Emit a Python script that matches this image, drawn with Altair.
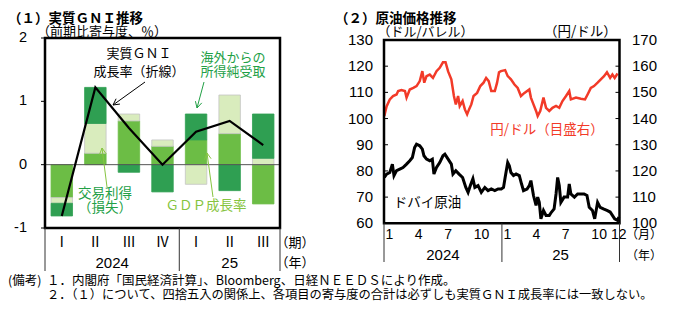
import math
import altair as alt
import pandas as pd

# ---------------- data: (1) real GNI ----------------
quarter_labels = ["Ⅰ", "Ⅱ", "Ⅲ", "Ⅳ", "Ⅰ", "Ⅱ", "Ⅲ"]
quarter_years = ["2024", "2024", "2024", "2024", "25", "25", "25"]
gdp_growth = [-0.52, 0.18, 0.69, 0.29, 0.39, 0.49, -0.62]
trade_gain = [-0.09, 0.47, 0.11, 0.10, -0.31, 0.61, 0.10]
net_income = [-0.20, 0.57, -0.12, -0.43, 0.41, -0.41, 0.70]
gni_growth = [-0.81, 1.22, 0.58, 0.00, 0.52, 0.69, 0.31]
left_ticks = [2, 1, 0, -1]
components = ["GDP成長率", "交易利得（損失）", "海外からの所得純受取"]

# ---------------- data: (2) crude oil & yen ----------------
oil_dates = [
    "2024-01-02", "2024-01-09", "2024-01-19", "2024-01-27", "2024-02-01", "2024-02-09",
    "2024-02-19", "2024-02-29", "2024-03-11", "2024-03-21", "2024-03-29", "2024-04-05",
    "2024-04-11", "2024-04-21", "2024-04-29", "2024-05-04", "2024-05-12", "2024-05-22",
    "2024-05-30", "2024-06-04", "2024-06-12", "2024-06-22", "2024-07-02", "2024-07-08",
    "2024-07-18", "2024-07-28", "2024-08-02", "2024-08-11", "2024-08-21", "2024-09-01",
    "2024-09-11", "2024-09-18", "2024-09-25", "2024-10-03", "2024-10-09", "2024-10-19",
    "2024-10-29", "2024-11-09", "2024-11-19", "2024-11-29", "2024-12-10", "2024-12-20",
    "2024-12-30", "2025-01-06", "2025-01-11", "2025-01-19", "2025-01-24", "2025-01-29",
    "2025-02-06", "2025-02-14", "2025-02-24", "2025-03-03", "2025-03-09", "2025-03-20",
    "2025-03-27", "2025-04-01", "2025-04-09", "2025-04-17", "2025-04-22", "2025-04-27",
    "2025-05-02", "2025-05-10", "2025-05-18", "2025-05-28", "2025-06-04", "2025-06-12",
    "2025-06-18", "2025-06-23", "2025-06-28", "2025-07-03", "2025-07-13", "2025-07-24",
    "2025-07-29", "2025-08-03", "2025-08-14", "2025-08-24", "2025-09-03", "2025-09-13",
    "2025-09-22", "2025-09-29", "2025-10-09", "2025-10-16", "2025-10-25", "2025-11-02",
    "2025-11-12", "2025-11-23", "2025-12-03", "2025-12-10", "2025-12-17", "2025-12-26",
    "2025-12-30",
]
oil_values = [
    77.5, 78.8, 79.4, 82.6, 78.2, 80.1,
    80.7, 81.3, 82.6, 83.9, 85.1, 88.9,
    90.2, 89.6, 88.3, 85.8, 84.5, 83.9,
    84.5, 78.8, 81.3, 83.2, 85.8, 86.4,
    84.5, 82.6, 78.8, 80.1, 78.8, 77.5,
    73.7, 71.8, 74.4, 77.0, 73.7, 74.4,
    71.8, 73.7, 72.5, 73.1, 72.5, 73.1,
    73.1, 73.7, 77.5, 83.2, 82.0, 79.4,
    78.2, 78.8, 78.2, 75.0, 72.5, 73.1,
    74.4, 76.3, 70.6, 66.8, 70.0, 68.0,
    61.7, 64.9, 63.0, 63.0, 64.3, 65.5,
    71.2, 77.5, 74.4, 68.0, 70.0, 70.0,
    75.0, 71.2, 70.0, 71.2, 71.2, 71.2,
    70.6, 66.1, 64.9, 61.7, 68.0, 66.1,
    65.5, 64.9, 64.3, 63.0, 61.7, 61.1,
    62.4,
]
yen_dates = [
    "2024-01-02", "2024-01-09", "2024-01-19", "2024-01-29", "2024-02-09", "2024-02-14",
    "2024-02-24", "2024-03-06", "2024-03-11", "2024-03-21", "2024-04-01", "2024-04-11",
    "2024-04-21", "2024-04-29", "2024-05-05", "2024-05-12", "2024-05-22", "2024-06-01",
    "2024-06-12", "2024-06-22", "2024-07-02", "2024-07-10", "2024-07-18", "2024-07-28",
    "2024-08-05", "2024-08-11", "2024-08-18", "2024-08-23", "2024-09-01", "2024-09-08",
    "2024-09-15", "2024-09-21", "2024-09-28", "2024-10-05", "2024-10-16", "2024-10-26",
    "2024-11-05", "2024-11-13", "2024-11-21", "2024-11-29", "2024-12-10", "2024-12-17",
    "2024-12-23", "2024-12-29", "2025-01-11", "2025-01-19", "2025-01-29", "2025-02-09",
    "2025-02-19", "2025-03-01", "2025-03-12", "2025-03-27", "2025-04-01", "2025-04-09",
    "2025-04-17", "2025-04-22", "2025-04-30", "2025-05-10", "2025-05-18", "2025-05-28",
    "2025-06-07", "2025-06-18", "2025-06-28", "2025-07-08", "2025-07-19", "2025-07-29",
    "2025-08-03", "2025-08-19", "2025-09-03", "2025-09-16", "2025-09-24", "2025-10-04",
    "2025-10-14", "2025-10-25", "2025-11-04", "2025-11-14", "2025-11-23", "2025-12-03",
    "2025-12-10", "2025-12-17", "2025-12-26",
]
yen_values = [
    141.0, 144.6, 147.3, 148.6, 149.2, 150.5,
    150.9, 150.5, 148.0, 151.1, 151.7, 152.4,
    154.3, 158.1, 153.7, 156.2, 156.8, 155.5,
    158.1, 159.4, 161.5, 161.5, 158.0, 155.0,
    148.6, 145.4, 148.6, 144.8, 146.7, 143.5,
    141.6, 143.5, 145.4, 148.6, 149.8, 152.4,
    153.7, 155.5, 154.3, 150.5, 150.5, 153.7,
    157.7, 158.1, 158.5, 156.2, 155.0, 153.0,
    151.7, 148.6, 149.8, 151.1, 148.0, 145.4,
    142.9, 141.0, 142.9, 148.0, 144.1, 142.9,
    144.1, 144.8, 144.1, 146.7, 148.6, 150.5,
    147.3, 148.0, 147.6, 147.3, 149.2, 151.7,
    152.4, 153.7, 155.0, 156.2, 157.7, 155.5,
    156.8, 155.5, 157.2,
]
oil_ticks = [60, 70, 80, 90, 100, 110, 120, 130]
yen_ticks = [100, 110, 120, 130, 140, 150, 160, 170]
month_tick_dates = ["2024-01-01", "2024-04-01", "2024-07-01", "2024-10-01",
                    "2025-01-01", "2025-04-01", "2025-07-01", "2025-10-01", "2025-12-01"]
month_tick_labels = ["1", "4", "7", "10", "1", "4", "7", "10", "12"]
year_names = ["2024", "25"]
year_starts = ["2024-01-01", "2025-01-01", "2026-01-01"]

# ---------------- tables ----------------
qkeys = [f"{y}-{q}" for y, q in zip(quarter_years, quarter_labels)]
rows = []
for i, k in enumerate(qkeys):
    for j, (comp, vals) in enumerate(zip(components, [gdp_growth, trade_gain, net_income])):
        rows.append({"key": k, "component": comp, "value": vals[i], "ord": j})
bar_df = pd.DataFrame(rows)
gni_df = pd.DataFrame({"key": qkeys, "gni": gni_growth, "idx": range(len(qkeys))})
qlab_df = pd.DataFrame({"key": qkeys, "label": quarter_labels})
year_counts = [quarter_years.count(y) for y in year_names]
bounds = [0]
for c in year_counts:
    bounds.append(bounds[-1] + c)
ylab_df = pd.DataFrame({"name": year_names,
                        "pos": [(bounds[i] + bounds[i + 1]) / 2 for i in range(len(year_names))]})
ysep_df = pd.DataFrame({"pos": bounds})
lt_df = pd.DataFrame({"v": left_ticks, "t": [str(v) for v in left_ticks]})

oil_df = pd.DataFrame({"date": oil_dates, "oil": oil_values})
yen_df = pd.DataFrame({"date": yen_dates, "yen": yen_values})
ot_df = pd.DataFrame({"v": oil_ticks})
yt_df = pd.DataFrame({"v": yen_ticks})
mt_df = pd.DataFrame({"date": month_tick_dates, "label": month_tick_labels})
yr_mid = ["2024-07-02", "2025-07-02"]
yr_df = pd.DataFrame({"date": yr_mid, "name": year_names})
ys_df = pd.DataFrame({"date": year_starts})

# ---------------- styling ----------------
JP = "Noto Sans CJK JP"
NUM = "Liberation Sans Narrow, Liberation Sans, sans-serif"
GREEN_TXT = "#22a046"
LIGHT_GREEN = "#86c440"
bar_fill = ["#6cbd45", "#d9ecbd", "#2f9f52"]
bar_stroke = ["#6cbd45", "#c4c4c4", "#2f9f52"]

LX0, LX1, LY0, LY1 = 37, 272, 30, 220
RX0, RX1, RY0, RY1 = 376, 611.5, 32, 215.3

XQ = alt.Scale(type="band", domain=qkeys, range=[LX0, LX1], paddingInner=0.36, paddingOuter=0.18)
XI = alt.Scale(type="linear", domain=[0, len(qkeys)], range=[LX0, LX1], nice=False, zero=False)
YL = alt.Scale(domain=[-1, 2], range=[LY1, LY0], nice=False, zero=False)
XT = alt.Scale(type="utc", domain=[alt.DateTime(year=2024, month=1, date=1, utc=True),
                                   alt.DateTime(year=2026, month=1, date=1, utc=True)],
               range=[RX0, RX1], nice=False)
YO = alt.Scale(domain=[60, 130], range=[RY1, RY0], nice=False, zero=False)
YY = alt.Scale(domain=[100, 170], range=[RY1, RY0], nice=False, zero=False)

one = alt.Data(values=[{"a": 1}])


def label(text, x, y, size=13, color="black", align="center", font=JP, weight="normal"):
    return alt.Chart(one).mark_text(
        text=text, fontSize=size, color=color, align=align, baseline="middle",
        font=font, fontWeight=weight
    ).encode(x=alt.value(x), y=alt.value(y))


def seg(x1, y1, x2, y2, color="black", w=1.0):
    return alt.Chart(one).mark_rule(color=color, strokeWidth=w).encode(
        x=alt.value(x1), y=alt.value(y1), x2=alt.value(x2), y2=alt.value(y2))


def arrow(x1, y1, x2, y2, color, w=1.0, head=7):
    dx, dy = x2 - x1, y2 - y1
    L = math.hypot(dx, dy)
    bx, by = -dx / L, -dy / L
    parts = [seg(x1, y1, x2, y2, color, w)]
    for s in (1, -1):
        c, sn = math.cos(math.radians(28)), math.sin(math.radians(28)) * s
        hx, hy = bx * c - by * sn, bx * sn + by * c
        parts.append(seg(x2, y2, x2 + hx * head, y2 + hy * head, color, w))
    return parts


def frame(x0, x1, y0, y1):
    return alt.Chart(one).mark_rect(fillOpacity=0, stroke="black", strokeWidth=2.5).encode(
        x=alt.value(x0), x2=alt.value(x1), y=alt.value(y0), y2=alt.value(y1))


layers = []

# ---- (1) left panel ----
layers.append(alt.Chart(bar_df).mark_bar(strokeWidth=0.8).encode(
    x=alt.X("key:N", scale=XQ, axis=None, sort=qkeys),
    y=alt.Y("value:Q", scale=YL, axis=None, stack="zero"),
    color=alt.Color("component:N", scale=alt.Scale(domain=components, range=bar_fill), legend=None),
    stroke=alt.Stroke("component:N", scale=alt.Scale(domain=components, range=bar_stroke), legend=None),
    order=alt.Order("ord:Q"),
))
layers.append(alt.Chart(pd.DataFrame({"v": [0]})).mark_rule(color="#555555", strokeWidth=1).encode(
    y=alt.Y("v:Q", scale=YL, axis=None), x=alt.value(LX0), x2=alt.value(LX1)))
layers.append(alt.Chart(gni_df).mark_line(color="black", strokeWidth=2.2).encode(
    x=alt.X("key:N", scale=XQ, axis=None, sort=qkeys, bandPosition=0.5),
    y=alt.Y("gni:Q", scale=YL, axis=None),
    order=alt.Order("idx:Q"),
))
layers.append(frame(LX0, LX1, LY0, LY1))
layers.append(alt.Chart(lt_df).mark_rule(color="black", strokeWidth=1).encode(
    y=alt.Y("v:Q", scale=YL, axis=None), x=alt.value(LX0 - 4), x2=alt.value(LX0)))
layers.append(alt.Chart(lt_df).mark_text(font=NUM, fontSize=14.5, align="right", baseline="middle").encode(
    y=alt.Y("v:Q", scale=YL, axis=None), x=alt.value(19), text="t:N"))
layers.append(alt.Chart(qlab_df).mark_text(font=JP, fontSize=14, baseline="middle").encode(
    x=alt.X("key:N", scale=XQ, axis=None, sort=qkeys, bandPosition=0.5), y=alt.value(235), text="label:N"))
layers.append(alt.Chart(ylab_df).mark_text(font=NUM, fontSize=15, baseline="middle").encode(
    x=alt.X("pos:Q", scale=XI, axis=None), y=alt.value(255), text="name:N"))
layers.append(alt.Chart(ysep_df).mark_rule(color="#333333", strokeWidth=1).encode(
    x=alt.X("pos:Q", scale=XI, axis=None), y=alt.value(LY1), y2=alt.value(263)))
layers.append(label("（期）", 287, 235, 13, align="center"))
layers.append(label("（年）", 287, 255, 13, align="center"))
layers.append(label("（１）実質ＧＮＩ推移", 0, 11, 13.5, align="left", weight="bold"))
layers.append(label("（前期比寄与度、％）", 29, 24, 13, align="left"))
layers.append(label("実質ＧＮＩ", 131, 46, 13))
layers.append(label("成長率（折線）", 131, 64, 13))
layers += arrow(137, 74, 105, 97, "black", 1.0)
layers.append(label("海外からの", 225, 50, 13, color=GREEN_TXT))
layers.append(label("所得純受取", 225, 64, 13, color=GREEN_TXT))
layers += arrow(196, 74, 189, 100, GREEN_TXT, 1.0)
layers.append(label("交易利得", 97, 186, 13.5, color=GREEN_TXT))
layers.append(label("（損失）", 97, 200, 13.5, color=GREEN_TXT))
layers += arrow(99, 179, 94, 140, LIGHT_GREEN, 1.0)
layers.append(label("ＧＤＰ成長率", 198, 198, 13.5, color=LIGHT_GREEN))
layers += arrow(205, 189, 199, 145, LIGHT_GREEN, 1.0)

# ---- (2) right panel ----
layers.append(alt.Chart(oil_df).mark_line(color="black", strokeWidth=3).encode(
    x=alt.X("date:T", scale=XT, axis=None), y=alt.Y("oil:Q", scale=YO, axis=None)))
layers.append(alt.Chart(yen_df).mark_line(color="#f23a28", strokeWidth=2.5).encode(
    x=alt.X("date:T", scale=XT, axis=None), y=alt.Y("yen:Q", scale=YY, axis=None)))
layers.append(frame(RX0, RX1, RY0, RY1))
layers.append(alt.Chart(ot_df).mark_rule(color="black", strokeWidth=1).encode(
    y=alt.Y("v:Q", scale=YO, axis=None), x=alt.value(RX0), x2=alt.value(RX0 + 4)))
layers.append(alt.Chart(yt_df).mark_rule(color="black", strokeWidth=1).encode(
    y=alt.Y("v:Q", scale=YY, axis=None), x=alt.value(RX1 - 4), x2=alt.value(RX1)))
layers.append(alt.Chart(ot_df).mark_text(font=NUM, fontSize=15, align="right", baseline="middle").encode(
    y=alt.Y("v:Q", scale=YO, axis=None), x=alt.value(365), text="v:Q"))
layers.append(alt.Chart(yt_df).mark_text(font=NUM, fontSize=15, align="left", baseline="middle").encode(
    y=alt.Y("v:Q", scale=YY, axis=None), x=alt.value(624), text="v:Q"))
layers.append(alt.Chart(mt_df).mark_text(font=NUM, fontSize=14, align="left", baseline="middle", dx=1.5).encode(
    x=alt.X("date:T", scale=XT, axis=None), y=alt.value(227), text="label:N"))
layers.append(alt.Chart(yr_df).mark_text(font=NUM, fontSize=15, baseline="middle").encode(
    x=alt.X("date:T", scale=XT, axis=None), y=alt.value(247), text="name:N"))
layers.append(alt.Chart(ys_df).mark_rule(color="#333333", strokeWidth=1).encode(
    x=alt.X("date:T", scale=XT, axis=None), y=alt.value(RY1), y2=alt.value(254)))
layers.append(label("（月）", 636, 227, 12))
layers.append(label("（年）", 636, 248, 12))
layers.append(label("（２）原油価格推移", 327, 11, 13.5, align="left", weight="bold"))
layers.append(label("（ドル/バレル）", 369.5, 24, 13, align="left"))
layers.append(label("（円/ドル）", 536, 24, 13.5, align="left"))
layers.append(label("円/ドル（目盛右）", 539, 122, 13.5, color="#f23a28"))
layers.append(label("ドバイ原油", 419.5, 195, 13.5))

# ---- notes ----
layers.append(label("(備考)", 0, 272.5, 12.5, align="left"))
layers.append(label("１．内閣府「国民経済計算」、Bloomberg、日経ＮＥＥＤＳにより作成。", 39, 272.5, 12.5, align="left"))
layers.append(label("２．（１）について、四捨五入の関係上、各項目の寄与度の合計は必ずしも実質ＧＮＩ成長率には一致しない。", 39, 286.5, 12.25, align="left"))

chart = alt.layer(*layers).resolve_scale(
    x="independent", y="independent", color="independent", stroke="independent"
).properties(
    width=657, height=294, autosize=alt.AutoSizeParams(type="none"), padding=0
).configure_view(stroke=None)

chart.save("out.html", embed_options={"renderer": "svg", "actions": False})
